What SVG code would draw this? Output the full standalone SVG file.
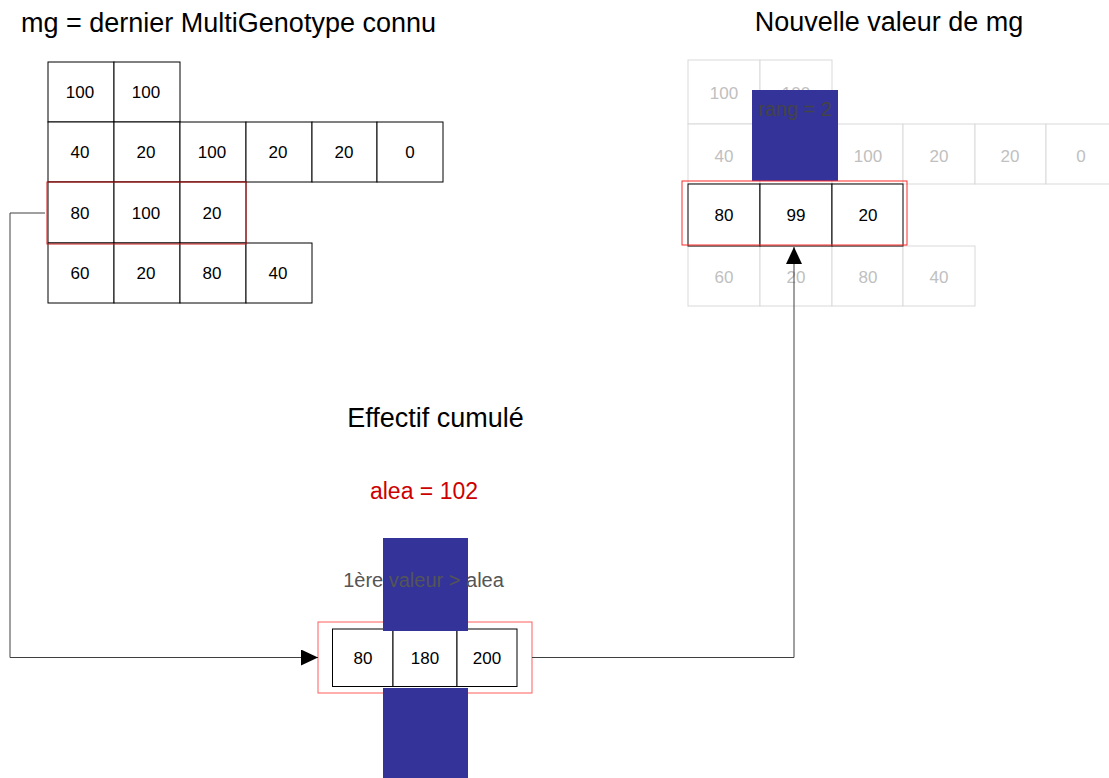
<svg xmlns="http://www.w3.org/2000/svg" width="1109" height="778" viewBox="0 0 1109 778">
  <style>
    text { font-family: "Liberation Sans", Arial, sans-serif; }
    .title { font-size: 27px; fill: #000; }
    .cell { fill: #fff; stroke: #000; stroke-width: 1; }
    .num { font-size: 17px; fill: #000; text-anchor: middle; }
    .gcell { fill: #fff; stroke: #d9d9d9; stroke-width: 1; }
    .gnum { font-size: 17px; fill: #c0c0c0; text-anchor: middle; }
    .blue { fill: #333399; }
    .conn { fill: none; stroke: #404040; stroke-width: 1; }
    .note { font-size: 20px; fill: #555555; text-anchor: middle; }
  </style>
  <defs>
    <marker id="arrow" markerWidth="17" markerHeight="16" refX="17" refY="8" orient="auto" markerUnits="userSpaceOnUse">
      <path d="M0,0 L17,8 L0,16 Z" fill="#000"/>
    </marker>
  </defs>

  <g id="title-left">
    <text class="title" x="21" y="32">mg = dernier MultiGenotype connu</text>
  </g>
  <g id="title-right">
    <text class="title" x="889" y="31" text-anchor="middle">Nouvelle valeur de mg</text>
  </g>

  <g id="grid-left">
    <rect class="cell" x="48" y="62" width="66" height="60"/>
    <rect class="cell" x="114" y="62" width="66" height="60"/>
    <text class="num" x="80" y="98">100</text>
    <text class="num" x="146" y="98">100</text>

    <rect class="cell" x="48" y="122" width="66" height="60"/>
    <rect class="cell" x="114" y="122" width="66" height="60"/>
    <rect class="cell" x="180" y="122" width="66" height="60"/>
    <rect class="cell" x="246" y="122" width="66" height="60"/>
    <rect class="cell" x="312" y="122" width="65" height="60"/>
    <rect class="cell" x="377" y="122" width="66" height="60"/>
    <text class="num" x="80" y="158">40</text>
    <text class="num" x="146" y="158">20</text>
    <text class="num" x="212" y="158">100</text>
    <text class="num" x="278" y="158">20</text>
    <text class="num" x="344" y="158">20</text>
    <text class="num" x="410" y="158">0</text>

    <rect class="cell" x="48" y="182" width="66" height="61"/>
    <rect class="cell" x="114" y="182" width="66" height="61"/>
    <rect class="cell" x="180" y="182" width="66" height="61"/>
    <text class="num" x="80" y="219">80</text>
    <text class="num" x="146" y="219">100</text>
    <text class="num" x="212" y="219">20</text>

    <rect class="cell" x="48" y="243" width="66" height="60"/>
    <rect class="cell" x="114" y="243" width="66" height="60"/>
    <rect class="cell" x="180" y="243" width="66" height="60"/>
    <rect class="cell" x="246" y="243" width="66" height="60"/>
    <text class="num" x="80" y="279">60</text>
    <text class="num" x="146" y="279">20</text>
    <text class="num" x="212" y="279">80</text>
    <text class="num" x="278" y="279">40</text>
  </g>
  <g id="highlight-left">
    <rect x="47" y="182" width="199" height="62" fill="none" stroke="#cc1a1a" stroke-width="1"/>
  </g>

  <g id="grid-right">
    <rect class="gcell" x="688" y="60" width="72" height="64"/>
    <rect class="gcell" x="760" y="60" width="72" height="64"/>
    <text class="gnum" x="724" y="99">100</text>
    <text class="gnum" x="796" y="99">100</text>

    <rect class="gcell" x="688" y="124" width="72" height="60"/>
    <rect class="gcell" x="760" y="124" width="72" height="60"/>
    <rect class="gcell" x="832" y="124" width="71" height="60"/>
    <rect class="gcell" x="903" y="124" width="72" height="60"/>
    <rect class="gcell" x="975" y="124" width="71" height="60"/>
    <rect class="gcell" x="1046" y="124" width="72" height="60"/>
    <text class="gnum" x="724" y="162">40</text>
    <text class="gnum" x="796" y="162">20</text>
    <text class="gnum" x="868" y="162">100</text>
    <text class="gnum" x="939" y="162">20</text>
    <text class="gnum" x="1010" y="162">20</text>
    <text class="gnum" x="1081" y="162">0</text>

    <rect class="gcell" x="688" y="246" width="72" height="60"/>
    <rect class="gcell" x="760" y="246" width="72" height="60"/>
    <rect class="gcell" x="832" y="246" width="71" height="60"/>
    <rect class="gcell" x="903" y="246" width="72" height="60"/>
    <text class="gnum" x="724" y="283">60</text>
    <text class="gnum" x="796" y="283">20</text>
    <text class="gnum" x="868" y="283">80</text>
    <text class="gnum" x="939" y="283">40</text>
  </g>

  <g id="rang-marker">
    <rect class="blue" x="752" y="90" width="86" height="91"/>
    <text x="795" y="116" font-size="20" fill="#444444" text-anchor="middle">rang = 2</text>
  </g>

  <g id="new-row">
    <rect class="cell" x="688" y="184" width="72" height="62"/>
    <rect class="cell" x="760" y="184" width="72" height="62"/>
    <rect class="cell" x="832" y="184" width="71" height="62"/>
    <text class="num" x="724" y="221">80</text>
    <text class="num" x="796" y="221">99</text>
    <text class="num" x="868" y="221">20</text>
  </g>
  <g id="highlight-right">
    <rect x="682" y="181" width="225" height="64" fill="none" stroke="#ff2a2a" stroke-width="1"/>
  </g>

  <g id="title-bottom">
    <text class="title" x="435.5" y="427" text-anchor="middle">Effectif cumulé</text>
  </g>
  <g id="alea">
    <text x="424" y="499" font-size="23" fill="#cc0000" text-anchor="middle">alea = 102</text>
  </g>

  <g id="cumul">
    <rect x="318" y="622" width="214" height="71" fill="none" stroke="#ff5c5c" stroke-width="1"/>
    <rect class="cell" x="332.5" y="629" width="60.5" height="57.5"/>
    <rect class="cell" x="393" y="629" width="64" height="57.5"/>
    <rect class="cell" x="457" y="629" width="60" height="57.5"/>
    <text class="num" x="363" y="664">80</text>
    <text class="num" x="425" y="664">180</text>
    <text class="num" x="487" y="664">200</text>
  </g>

  <g id="search-marker">
    <rect class="blue" x="383" y="538" width="85" height="93"/>
    <rect class="blue" x="383" y="688" width="85" height="90"/>
    <text class="note" x="423.5" y="587">1ère valeur &gt; alea</text>
  </g>

  <g id="connectors">
    <polyline class="conn" points="45,213 10,213 10,657.5 318,657.5" marker-end="url(#arrow)"/>
    <polyline class="conn" points="532,657.5 794,657.5 794,247" marker-end="url(#arrow)"/>
  </g>
</svg>
